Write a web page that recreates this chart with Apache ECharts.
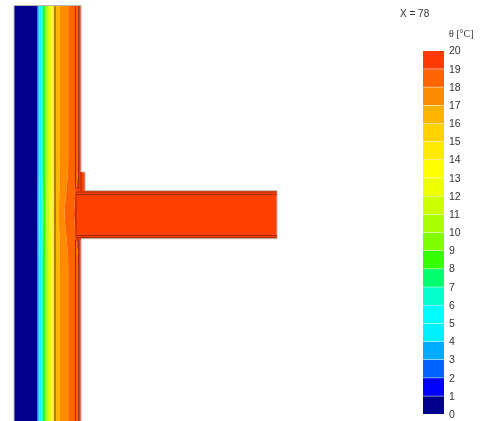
<!DOCTYPE html>
<html><head><meta charset="utf-8">
<style>html,body{margin:0;padding:0;background:#fff}#c{width:487px;height:421px;filter:blur(0.35px)}</style>
<script src="https://cdn.jsdelivr.net/npm/echarts@6/dist/echarts.min.js"></script>
</head><body><div id="c"></div>
<script>
// legend scale
const tempTicks = [0,1,2,3,4,5,6,7,8,9,10,11,12,13,14,15,16,17,18,19,20];
const bandColors = ['#00008c','#0000ff','#0064ff','#00aaff','#00f0ff','#00ffff','#00ffcc','#00ff6e','#33ff00','#80ff00','#aaff00','#ccff00','#eeff00','#ffff00','#ffeb00','#ffd200','#ffb400','#ff8c00','#ff6400','#ff3a00'];
const slabColor = '#ff4000';
// section sample heights and isotherm positions
const sectionY = [6,150,172,190,205,214,223,238,256,275,421];
const wallLeft  = [14,14,14,14,14,14,14,14,14,14,14];
const wallRight = [81,81,81,81,81,81,81,81,81,81,81];
const isotherms = [
 [37,37,37,37,37,37,37,37,37,37,37],
 [37.6,37.6,37.6,37.6,37.5,37.5,37.5,37.6,37.6,37.6,37.6],
 [38.2,38.2,38.2,38.1,38,38,38,38.1,38.2,38.2,38.2],
 [38.9,38.9,38.9,38.8,38.7,38.7,38.7,38.8,38.9,38.9,38.9],
 [39.7,39.7,39.7,39.6,39.5,39.5,39.5,39.6,39.7,39.7,39.7],
 [41.5,41.5,41.5,41.4,41.3,41.3,41.3,41.4,41.5,41.5,41.5],
 [42.7,42.7,42.7,42.6,42.5,42.5,42.5,42.6,42.7,42.7,42.7],
 [44,44,44,43.9,43.8,43.8,43.8,43.9,44,44,44],
 [45.2,45.2,45.2,45.1,45,45,45,45.1,45.2,45.2,45.2],
 [46.7,46.7,46.7,46.6,46.5,46.5,46.5,46.6,46.7,46.7,46.7],
 [48,48,48,47.9,47.8,47.8,47.8,47.9,48,48,48],
 [49.5,49.5,49.5,49.4,49.3,49.3,49.3,49.4,49.5,49.5,49.5],
 [51,51,51,50.9,50.8,50.7,50.8,50.9,51,51,51],
 [52.5,52.5,52.5,52.4,52.3,52.2,52.3,52.4,52.5,52.5,52.5],
 [54,54,54,53.9,53.8,53.7,53.8,53.9,54,54,54],
 [55.3,55.3,55.3,55.2,55.1,55,55.1,55.2,55.3,55.3,55.3],
 [60,60,59.8,59.4,59,58.8,59,59.4,59.8,60,60],
 [68.3,68.3,68,66.5,65,64.5,65,66.5,68,68.3,68.3],
 [78.5,78.5,78,76,74.5,74,74.5,76,78,78.5,78.5]
];
// solid parts: x0, y0, x1, y1
const solids = [
 [76,191,277,238],
 [79,172,85,191]
];
// material outlines as [x,y] paths
const outlineGrey = [
 [[14,421],[14,5.5],[81,5.5],[81,172]],
 [[81,240],[81,421]],
 [[81,172],[85,172],[85,190.7],[277,190.7],[277,238.7],[81,238.7]]
];
const outlineBrown = [ [[55,6],[55,421]] ];
const outlineDark = [
 [[75.5,6],[75.5,188],[79,188]],
 [[78.7,6],[78.7,188]],
 [[81,172],[81,191]],
 [[76,191.5],[76,237.5]],
 [[76,192],[277,192]],
 [[76,194.5],[277,194.5]],
 [[76,235.5],[277,235.5]],
 [[76,237.7],[277,237.7]],
 [[75.5,421],[75.5,240],[79,240]],
 [[78.7,421],[78.7,240]]
];

const boundaries = [wallLeft, ...isotherms, wallRight];
const wallBands = bandColors.map((c,i)=>i);

function lineSeries(paths,color,width){
  return paths.map(p=>({type:'line',xAxisIndex:0,yAxisIndex:0,data:p,symbol:'none',silent:true,animation:false,
    lineStyle:{color:color,width:width},z:5}));
}
const option = {
  animation:false,
  title:[
    {text:'X = 78',left:400,top:9,padding:0,textStyle:{fontFamily:'Liberation Sans',fontSize:10,fontWeight:'normal',color:'#333'}},
    {text:'θ [°C]',left:449,top:29,padding:0,textStyle:{fontFamily:'Liberation Serif',fontSize:10,fontWeight:'normal',color:'#333'}}
  ],
  grid:[
    {left:0,top:0,width:487,height:421},
    {left:423,top:50.5,width:21,height:363.5},
    {left:423,top:51.5,width:21,height:363.5}
  ],
  xAxis:[
    {type:'value',gridIndex:0,min:0,max:487,show:false},
    {type:'value',gridIndex:1,min:0,max:1,show:false},
    {type:'value',gridIndex:2,min:0,max:1,show:false}
  ],
  yAxis:[
    {type:'value',gridIndex:0,min:0,max:421,inverse:true,show:false},
    {type:'value',gridIndex:1,min:0,max:20,interval:1,show:false},
    {type:'value',gridIndex:2,min:0,max:20,interval:1,position:'right',
     axisLine:{show:false},axisTick:{show:false},splitLine:{show:false},
     axisLabel:{margin:5,fontFamily:'Liberation Sans',fontSize:10.5,color:'#333',
       customValues:tempTicks,showMinLabel:true,showMaxLabel:true}}
  ],
  series:[
    {type:'custom',xAxisIndex:0,yAxisIndex:0,coordinateSystem:'cartesian2d',silent:true,z:1,clip:false,
     data:wallBands,
     renderItem(params,api){
       const i=params.dataIndex, pts=[];
       sectionY.forEach((y,k)=>pts.push(api.coord([boundaries[i][k],y])));
       for(let k=sectionY.length-1;k>=0;k--) pts.push(api.coord([boundaries[i+1][k],sectionY[k]]));
       return {type:'polygon',shape:{points:pts,smooth:0},style:{fill:bandColors[i]}};
     }},
    {type:'custom',xAxisIndex:0,yAxisIndex:0,coordinateSystem:'cartesian2d',silent:true,z:2,
     data:solids,
     renderItem(params,api){
       const s=solids[params.dataIndex];
       const a=api.coord([s[0],s[1]]), b=api.coord([s[2],s[3]]);
       return {type:'rect',shape:{x:a[0],y:a[1],width:b[0]-a[0],height:b[1]-a[1]},style:{fill:slabColor}};
     }},
    ...lineSeries(outlineGrey,'#bdb8b5',1),
    ...lineSeries(outlineBrown,'#7a4f14',1.2),
    ...lineSeries(outlineDark,'#a52a05',1),
    {type:'custom',xAxisIndex:1,yAxisIndex:1,coordinateSystem:'cartesian2d',silent:true,z:3,
     data:wallBands,
     renderItem(params,api){
       const i=params.dataIndex;
       const a=api.coord([0,i+1]), b=api.coord([1,i]);
       return {type:'rect',shape:{x:a[0],y:a[1]+0.5,width:b[0]-a[0],height:b[1]-a[1]-0.5},style:{fill:bandColors[i]}};
     }}
  ]
};
echarts.init(document.getElementById('c')).setOption(option);
</script></body></html>
